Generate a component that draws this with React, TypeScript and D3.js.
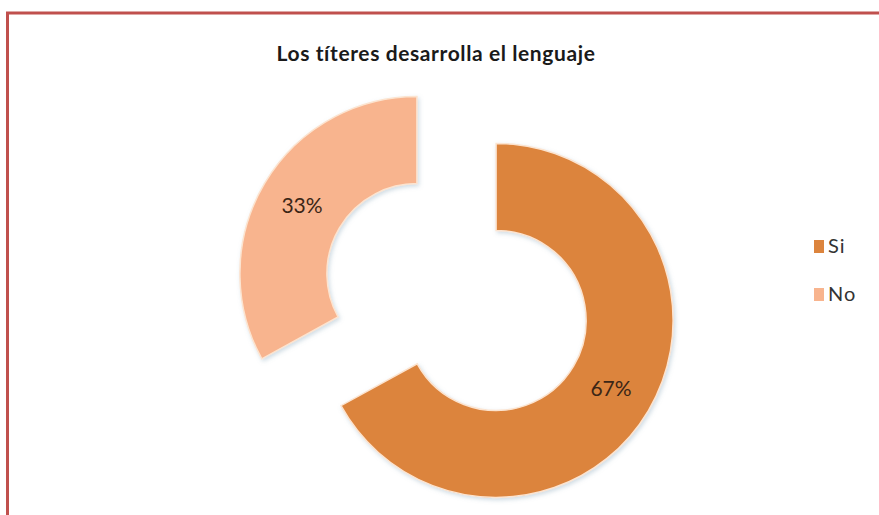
import { useEffect, useRef } from 'react';
import * as d3 from 'd3';

const categories = ['Si', 'No'];
const values = [67, 33];
const colors = ['#DC843D', '#F8B48E'];
const title = 'Los títeres desarrolla el lenguaje';

const App = () => {
    const ref = useRef<SVGSVGElement>(null);

    useEffect(() => {
        const svg = d3.select(ref.current);
        svg.selectAll('*').remove();

        const width = 879;
        const height = 515;
        const font = 'Lato, "Open Sans", sans-serif';

        // outer chart frame (right and bottom edges run off the picture)
        svg.append('rect')
            .attr('x', 7.5).attr('y', 13)
            .attr('width', width + 10).attr('height', height + 10)
            .attr('fill', '#fff')
            .attr('stroke', '#C0504D')
            .attr('stroke-width', 3);

        const defs = svg.append('defs');
        const filter = defs.append('filter').attr('id', 'shadow')
            .attr('x', '-10%').attr('y', '-10%').attr('width', '130%').attr('height', '130%');
        filter.append('feDropShadow')
            .attr('dx', 1.5).attr('dy', 2).attr('stdDeviation', 2)
            .attr('flood-color', '#7a9bb0').attr('flood-opacity', 0.35);

        svg.append('text')
            .attr('x', 436).attr('y', 61)
            .attr('text-anchor', 'middle')
            .style('font-family', font)
            .style('font-weight', 'bold')
            .style('font-size', '21px')
            .style('letter-spacing', '0.6px')
            .attr('fill', '#1a1a1a')
            .text(title);

        const cx = 456.5;
        const cy = 297;
        const outer = 177;
        const inner = 90;
        const explode = 46;

        const pie = d3.pie<number>().sort(null).value((d) => d)
            .startAngle(0).endAngle(2 * Math.PI);
        const arcs = pie(values);
        const arc = d3.arc<d3.PieArcDatum<number>>().innerRadius(inner).outerRadius(outer);

        const g = svg.append('g').attr('transform', `translate(${cx},${cy})`);
        const slice = g.selectAll('g.slice')
            .data(arcs)
            .enter()
            .append('g')
            .attr('class', 'slice')
            .attr('transform', (d) => {
                const a = (d.startAngle + d.endAngle) / 2;
                return `translate(${Math.sin(a) * explode},${-Math.cos(a) * explode})`;
            });

        slice.append('path')
            .attr('d', arc)
            .attr('fill', (d, i) => colors[i])
            .attr('stroke', '#FCE4D0')
            .attr('stroke-width', 1.5)
            .attr('filter', 'url(#shadow)');

        slice.append('text')
            .attr('transform', (d) => {
                const [x, y] = arc.centroid(d);
                return `translate(${x},${y})`;
            })
            .attr('text-anchor', 'middle')
            .attr('dy', '0.35em')
            .style('font-family', font)
            .style('font-size', '21px')
            .attr('fill', '#3b2616')
            .text((d) => `${d.data}%`);

        // legend
        const legend = svg.append('g').attr('transform', 'translate(814,240)');
        const item = legend.selectAll('g')
            .data(categories)
            .enter()
            .append('g')
            .attr('transform', (d, i) => `translate(0,${i * 48})`);
        item.append('rect')
            .attr('width', 10).attr('height', 13)
            .attr('fill', (d, i) => colors[i]);
        item.append('text')
            .attr('x', 14).attr('y', 13)
            .style('font-family', font)
            .style('font-size', '20px')
            .style('letter-spacing', '1px')
            .attr('fill', '#333')
            .text((d) => d);
    }, []);

    return (
        <svg ref={ref} width={879} height={515}
            style={{ position: 'absolute', left: 0, top: 0, display: 'block' }} />
    );
};

export default App;
